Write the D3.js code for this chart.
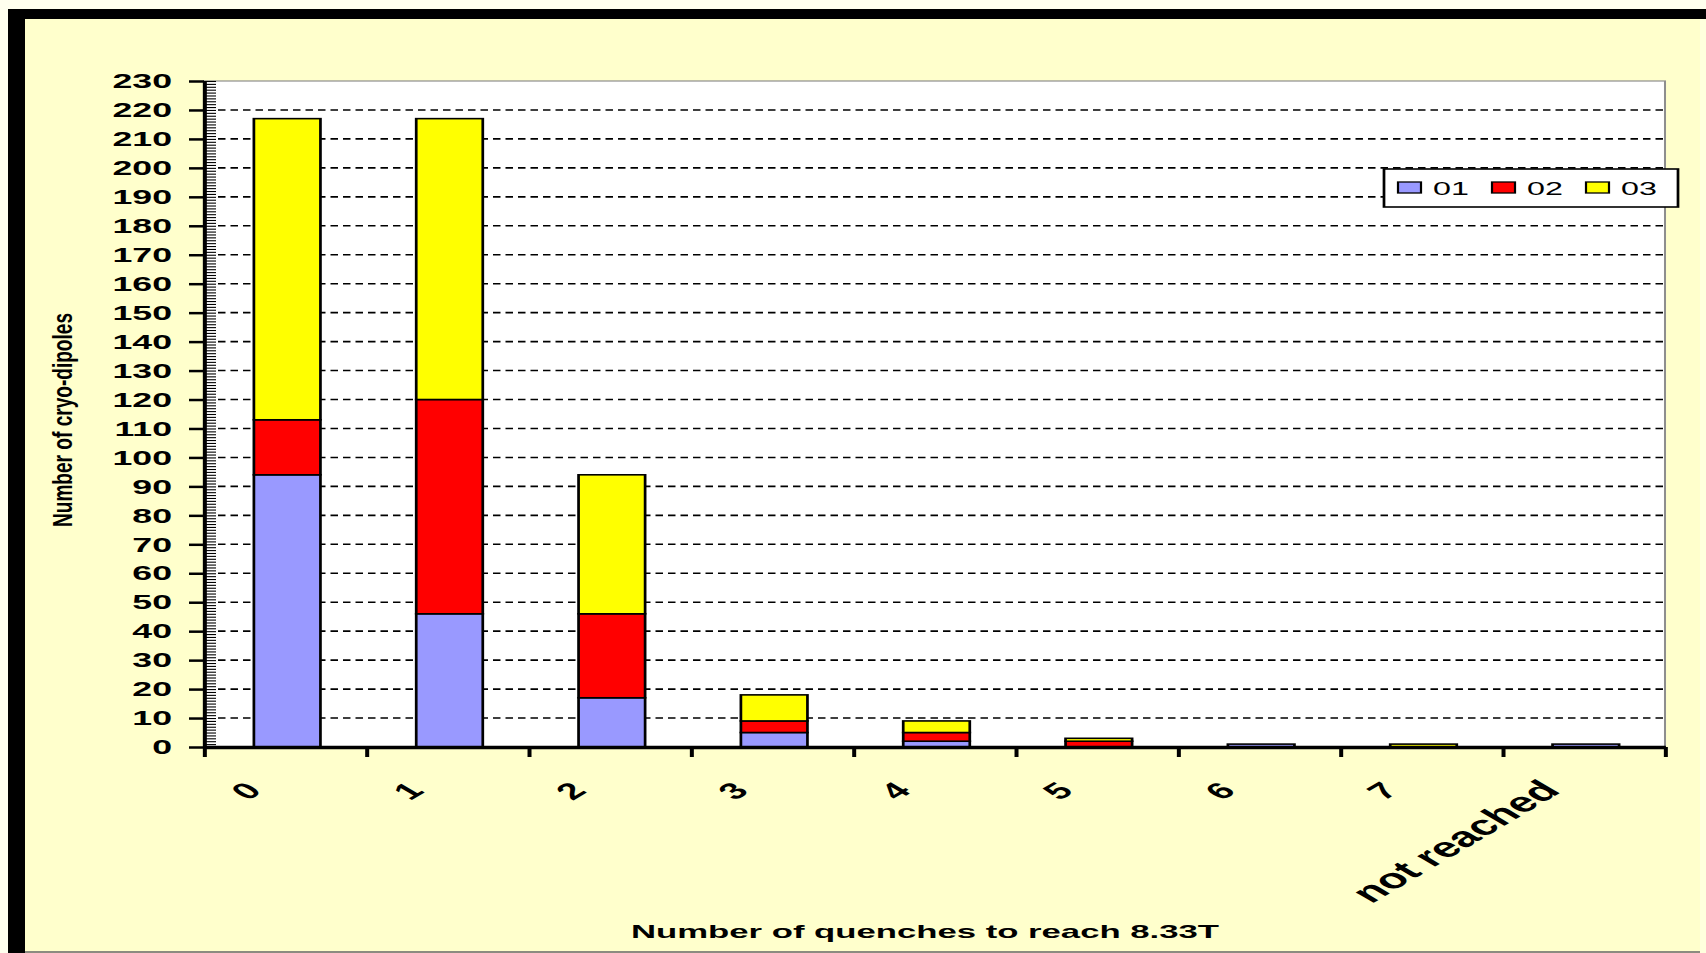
<!DOCTYPE html>
<html>
<head>
<meta charset="utf-8">
<script src="https://cdn.jsdelivr.net/npm/d3@7/dist/d3.min.js"></script>
<style>
  html, body { margin: 0; padding: 0; overflow: hidden; background: #FFFFEE; }
  svg { display: block; }
  text { font-family: "Liberation Sans", Arial, sans-serif; fill: #000; }
</style>
</head>
<body>
<script>
// Number of quenches needed to reach 8.33 T, per cryo-dipole, split by series
const categories = ["0", "1", "2", "3", "4", "5", "6", "7", "not reached"];
const seriesNames = ["01", "02", "03"];
const series01 = [94, 46, 17, 5, 2, 0, 1, 0, 1];
const series02 = [19, 74, 29, 4, 3, 2, 0, 0, 0];
const series03 = [104, 97, 48, 9, 4, 1, 0, 1, 0];
const yTickValues = d3.range(0, 231, 10);
const seriesColors = ["#9999FF", "#FF0000", "#FFFF00"];
const xTitle = "Number of quenches to reach 8.33T";
const yTitle = "Number of cryo-dipoles";

const W = 1706, H = 953;
// The drawing is laid out in a narrower user space and stretched horizontally.
const SX = 1.7;
const UW = W / SX;
const u = px => px / SX;   // page x -> user x

const rows = categories.map((c, i) => ({
  cat: c, "01": series01[i], "02": series02[i], "03": series03[i]
}));
const stacked = d3.stack().keys(seriesNames)(rows);

const svg = d3.select("body").append("svg")
  .attr("width", W).attr("height", H)
  .attr("viewBox", `0 0 ${UW} ${H}`)
  .attr("preserveAspectRatio", "none");

// frame: light page, black top/left edge, pale yellow panel
svg.append("rect").attr("x", 0).attr("y", 0).attr("width", UW).attr("height", H).attr("fill", "#FFFFEE");
svg.append("rect").attr("x", u(8)).attr("y", 9).attr("width", UW - u(8)).attr("height", H - 9).attr("fill", "#000");
svg.append("rect").attr("x", u(25)).attr("y", 19).attr("width", u(1700 - 25)).attr("height", 951 - 19).attr("fill", "#FFFFCC");
svg.append("rect").attr("x", u(1700)).attr("y", 19).attr("width", u(6)).attr("height", H - 19).attr("fill", "#FFFFDD");
svg.append("rect").attr("x", u(25)).attr("y", 951).attr("width", u(1675)).attr("height", 2).attr("fill", "#8C8C80");

const plotL = u(204), plotR = u(1665), plotT = 81, plotB = 747;

const x = d3.scaleBand().domain(categories).range([plotL, plotR])
  .paddingInner(0.59).paddingOuter(0.295);
const xEdge = d3.scaleLinear().domain([0, categories.length]).range([plotL, plotR]);
const y = d3.scaleLinear().domain([0, 230]).range([plotB, plotT]);

// plot area
svg.append("rect").attr("x", plotL).attr("y", plotT).attr("width", plotR - plotL).attr("height", plotB - plotT)
  .attr("fill", "#FFFFFF").attr("stroke", "#8E8E8E").attr("stroke-width", 1.2);

// dashed gridlines
svg.append("g").selectAll("line")
  .data(yTickValues.filter(v => v > 0 && v < 230))
  .join("line")
  .attr("x1", plotL + u(14)).attr("x2", plotR)
  .attr("y1", d => y(d)).attr("y2", d => y(d))
  .attr("stroke", "#000").attr("stroke-width", 1.6)
  .attr("stroke-dasharray", `${u(7.5)},${u(5)}`);

// stacked bars
svg.append("g").selectAll("g")
  .data(stacked)
  .join("g")
  .attr("fill", (d, i) => seriesColors[i])
  .selectAll("rect")
  .data(d => d.filter(s => s[1] > s[0]))
  .join("rect")
  .attr("x", d => x(d.data.cat) + u(2))
  .attr("width", x.bandwidth())
  .attr("y", d => y(d[1]))
  .attr("height", d => y(d[0]) - y(d[1]))
  .attr("stroke", "#000").attr("stroke-width", 1.6);

// y axis: minor comb inside, major ticks outside
const minor = svg.append("g").attr("transform", `translate(${plotL},0)`)
  .call(d3.axisRight(y).tickValues(d3.range(0, 231, 1)).tickSize(u(12)).tickFormat(""));
minor.select(".domain").remove();
minor.selectAll(".tick line").attr("stroke", "#000").attr("stroke-width", 1.1);

const yAxis = svg.append("g").attr("transform", `translate(${plotL},0)`)
  .call(d3.axisLeft(y).tickValues(yTickValues).tickSizeInner(u(15)).tickSizeOuter(0).tickPadding(u(17)));
yAxis.select(".domain").attr("stroke", "#000").attr("stroke-width", u(4));
yAxis.selectAll(".tick line").attr("stroke", "#000").attr("stroke-width", 2.5);
yAxis.selectAll(".tick text")
  .attr("font-size", 21).attr("font-weight", "bold")
  .attr("font-family", "'Liberation Sans', Arial, sans-serif").attr("fill", "#000");

// x axis: ticks on category boundaries
const xAxis = svg.append("g").attr("transform", `translate(0,${plotB})`)
  .call(d3.axisBottom(xEdge).tickValues(d3.range(0, categories.length + 1)).tickSize(10).tickSizeOuter(0).tickFormat(""));
xAxis.select(".domain").attr("stroke", "#000").attr("stroke-width", 3.5);
xAxis.selectAll(".tick line").attr("stroke", "#000").attr("stroke-width", u(4));

// rotated category labels (the worded label is set larger than the digits)
const angle = -45;
svg.append("g").selectAll("text")
  .data(categories)
  .join("text")
  .attr("transform", d => `translate(${x(d) + x.bandwidth() / 2 - u(22)},792) rotate(${angle})`)
  .attr("text-anchor", "end")
  .attr("font-size", d => d.length > 1 ? 28 : 23).attr("font-weight", "bold")
  .text(d => d);

// axis titles
svg.append("text")
  .attr("x", u(925)).attr("y", 938)
  .attr("text-anchor", "middle")
  .attr("font-size", 18).attr("font-weight", "bold")
  .attr("textLength", u(588)).attr("lengthAdjust", "spacingAndGlyphs")
  .text(xTitle);

svg.append("text")
  .attr("transform", `translate(${u(72)},420) rotate(-90)`)
  .attr("text-anchor", "middle")
  .attr("font-size", 16).attr("font-weight", "bold")
  .attr("textLength", 214).attr("lengthAdjust", "spacingAndGlyphs")
  .text(yTitle);

// legend
const lg = svg.append("g");
lg.append("rect").attr("x", u(1384)).attr("y", 169).attr("width", u(294)).attr("height", 38)
  .attr("fill", "#FFFFFF").attr("stroke", "#000").attr("stroke-width", 1.6);
const lgItem = lg.selectAll("g.item").data(seriesNames).join("g").attr("class", "item")
  .attr("transform", (d, i) => `translate(${u(1398 + i * 94)},0)`);
lgItem.append("rect").attr("x", 0).attr("y", 182).attr("width", u(23)).attr("height", 11)
  .attr("fill", (d, i) => seriesColors[i]).attr("stroke", "#000").attr("stroke-width", 1.3);
lgItem.append("text").attr("x", u(35)).attr("y", 195)
  .attr("font-size", 19).attr("fill", "#111").text(d => d);
</script>
</body>
</html>
